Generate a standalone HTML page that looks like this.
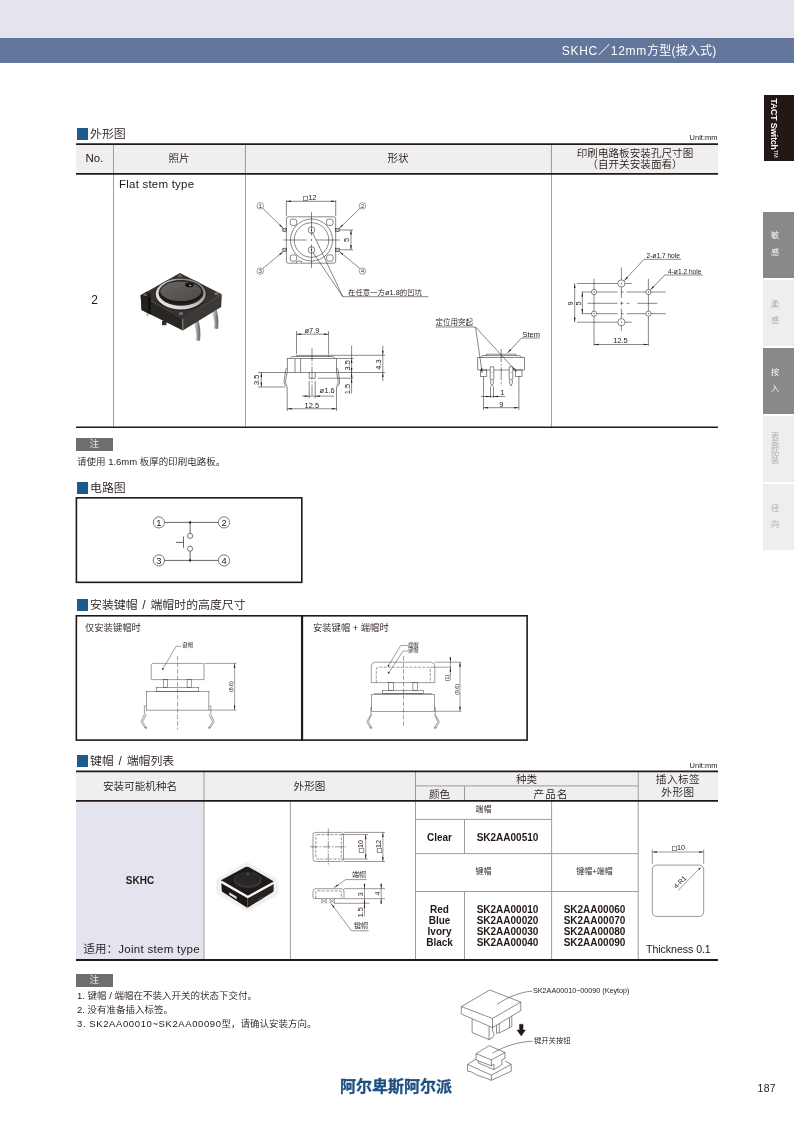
<!DOCTYPE html>
<html lang="zh-CN">
<head>
<meta charset="utf-8">
<title>SKHC 12mm</title>
<style>
*{box-sizing:border-box;margin:0;padding:0}
html,body{width:794px;height:1123px;background:#fff;overflow:hidden}
body{position:relative;font-family:"Liberation Sans","Noto Sans CJK SC",sans-serif;color:#231815;font-size:11px;font-weight:350}
.abs{position:absolute}
#pg{position:absolute;left:0;top:0;width:794px;height:1123px;will-change:transform}
.topband{left:0;top:0;width:794px;height:38px;background:#e3e4ee}
.blueband{left:0;top:38px;width:794px;height:25px;background:#62779b}
.title{right:77.500px;top:42px;color:#fff;font-size:12px;line-height:18px;white-space:nowrap;font-weight:400;letter-spacing:.2px}
.title b{font-weight:400;letter-spacing:.75px}
.sec{word-spacing:1.5px;font-size:11.9px;line-height:14px;white-space:nowrap;color:#231815;font-weight:350}
.sec i{display:inline-block;width:11px;height:12px;background:#1d5a8e;vertical-align:-2.2px;margin-right:2px}
.unit{font-size:7.5px;line-height:8px;color:#231815;white-space:nowrap}
.hl{background:#231815;height:2px}
.vl{background:#6b6b6b;width:1px}
.th{background:#efefef}
.c{text-align:center;white-space:nowrap}
.b{font-weight:bold;font-size:10px;line-height:11px}
.note-tag{background:#6e6e6e;color:#fff;font-size:9.5px;line-height:12.5px;text-align:center;width:37px;height:12.5px}
.note{font-size:9.5px;line-height:12px;white-space:nowrap}
.tab{left:763px;width:31px}
.tab span{position:absolute;left:0;width:24px;text-align:center;font-size:8.2px;line-height:10px}
svg{position:absolute;overflow:visible}
svg text{font-weight:350;font-family:"Liberation Sans","Noto Sans CJK SC",sans-serif;fill:#231815}
</style>
</head>
<body>
<div id="pg">
<div class="abs topband"></div>
<div class="abs blueband"></div>
<div class="abs title"><b>SKHC／12mm</b>方型(按入式)</div>

<!-- side tabs -->
<div class="abs" style="left:763.5px;top:95px;width:31px;height:65.5px;background:#231815"></div>
<div class="abs" style="left:741.5px;top:121.5px;width:67px;height:12px;transform:rotate(90deg);color:#fff;font-weight:bold;font-size:8.6px;line-height:12px;text-align:center;white-space:nowrap;letter-spacing:-.1px">TACT Switch<span style="font-size:5.5px;vertical-align:2.5px;font-weight:normal">TM</span></div>
<div class="abs tab" style="top:212px;height:66px;background:#898989;color:#fff"><span style="top:19.3px">敏</span><span style="top:35.5px">感</span></div>
<div class="abs tab" style="top:280px;height:66px;background:#eeeeee;color:#aaa"><span style="top:19.9px">柔</span><span style="top:35.6px">感</span></div>
<div class="abs tab" style="top:348px;height:66px;background:#898989;color:#fff"><span style="top:19.5px">按</span><span style="top:35.6px">入</span></div>
<div class="abs tab" style="top:416px;height:66px;background:#eeeeee;color:#aaa"><span style="top:15.8px">表</span><span style="top:23.8px">面</span><span style="top:31.7px">贴</span><span style="top:39.5px">装</span></div>
<div class="abs tab" style="top:484px;height:66px;background:#eeeeee;color:#aaa"><span style="top:20.0px">径</span><span style="top:36.1px">向</span></div>

<!-- section 1 -->
<div class="abs sec" style="left:77px;top:127px"><i></i>外形图</div>
<div class="abs unit" style="right:76.5px;top:134px">Unit:mm</div>

<!-- table 1 -->
<div class="abs th" style="left:76px;top:144px;width:642px;height:30px"></div>
<svg width="794" height="1123" viewBox="0 0 794 1123" style="left:0;top:0">
<line x1="113.5" y1="145" x2="113.5" y2="427" stroke="#9c9c9c" stroke-width="1"/>
<line x1="245.45" y1="145" x2="245.45" y2="427" stroke="#9c9c9c" stroke-width="1"/>
<line x1="551.45" y1="145" x2="551.45" y2="427" stroke="#9c9c9c" stroke-width="1"/>
<line x1="76" y1="144.15" x2="718" y2="144.15" stroke="#231815" stroke-width="1.7"/>
<line x1="76" y1="173.8" x2="718" y2="173.8" stroke="#231815" stroke-width="1.7"/>
<line x1="76" y1="427.25" x2="718" y2="427.25" stroke="#231815" stroke-width="1.6"/>
</svg>
<div class="abs c" style="left:76px;top:151px;width:37px;font-size:11.5px;line-height:14px">No.</div>
<div class="abs c" style="left:113px;top:151px;width:132px;font-size:10.6px;line-height:14px">照片</div>
<div class="abs c" style="left:245px;top:151px;width:306px;font-size:10.6px;line-height:14px">形状</div>
<div class="abs c" style="left:552px;top:147.5px;width:166px;font-size:10.6px;line-height:11px">印刷电路板安装孔尺寸图<br><span style="font-feature-settings:'halt'">（</span>自开关安装面看<span style="font-feature-settings:'halt'">）</span></div>
<div class="abs" style="left:119px;top:177px;font-size:11.5px;line-height:14px;white-space:nowrap;letter-spacing:.22px">Flat stem type</div>
<div class="abs c" style="left:76px;top:293px;width:37px;font-size:12px;line-height:14px">2</div>

<svg width="794" height="1123" viewBox="0 0 794 1123" style="left:0;top:0" fill="none" stroke="#231815">
<rect x="286.4" y="216.8" width="49.3" height="46.4" rx="2" stroke-width="0.52" fill="none" />
<path d="M296.7 263.2 V261.2 H301.4 V263.2" stroke-width="0.52" fill="#fff" />
<circle cx="311.5" cy="240.0" r="21" stroke-width="0.52" fill="none" />
<circle cx="311.5" cy="240.0" r="17.3" stroke-width="0.52" fill="none" />
<rect x="290.2" y="219.2" width="6.5" height="6.2" rx="2" stroke-width="0.52" fill="none" />
<rect x="326.6" y="219.2" width="6.5" height="6.2" rx="2" stroke-width="0.52" fill="none" />
<rect x="290.2" y="254.9" width="6.5" height="6.2" rx="2" stroke-width="0.52" fill="none" />
<rect x="326.6" y="254.9" width="6.5" height="6.2" rx="2" stroke-width="0.52" fill="none" />
<circle cx="311.5" cy="230.0" r="3.3" stroke-width="0.52" fill="none" />
<circle cx="311.5" cy="230.0" r="0.6" stroke-width="0.3" fill="#231815" />
<circle cx="311.5" cy="250.0" r="3.3" stroke-width="0.52" fill="none" />
<circle cx="311.5" cy="250.0" r="0.6" stroke-width="0.3" fill="#231815" />
<line x1="311.5" y1="211.8" x2="311.5" y2="235.5" stroke-width="0.52" />
<line x1="311.5" y1="239.3" x2="311.5" y2="240.7" stroke-width="0.52" />
<line x1="311.5" y1="244.5" x2="311.5" y2="268.0" stroke-width="0.52" />
<line x1="283.5" y1="240.0" x2="306.5" y2="240.0" stroke-width="0.52" />
<line x1="310.8" y1="240.0" x2="312.2" y2="240.0" stroke-width="0.52" />
<line x1="316.5" y1="240.0" x2="339.7" y2="240.0" stroke-width="0.52" />
<rect x="282.8" y="228.4" width="3.6" height="3.2" rx="0" stroke-width="0.52" fill="none" />
<circle cx="284.6" cy="230.0" r="1.1" stroke-width="0.4" fill="none" />
<rect x="335.7" y="228.4" width="4.0" height="3.2" rx="0" stroke-width="0.52" fill="none" />
<circle cx="337.6" cy="230.0" r="1.1" stroke-width="0.4" fill="none" />
<line x1="339.7" y1="230.0" x2="353.0" y2="230.0" stroke-width="0.52" />
<rect x="282.8" y="248.2" width="3.6" height="3.2" rx="0" stroke-width="0.52" fill="none" />
<circle cx="284.6" cy="249.8" r="1.1" stroke-width="0.4" fill="none" />
<rect x="335.7" y="248.2" width="4.0" height="3.2" rx="0" stroke-width="0.52" fill="none" />
<circle cx="337.6" cy="249.8" r="1.1" stroke-width="0.4" fill="none" />
<line x1="339.7" y1="249.8" x2="353.0" y2="249.8" stroke-width="0.52" />
<line x1="286.4" y1="200.3" x2="286.4" y2="216.0" stroke-width="0.52" />
<line x1="335.7" y1="200.3" x2="335.7" y2="216.0" stroke-width="0.52" />
<line x1="286.4" y1="201.3" x2="335.7" y2="201.3" stroke-width="0.52" />
<polygon points="286.4,201.3 291.0,200.6 291.0,202.1" fill="#231815" stroke="none"/>
<polygon points="335.7,201.3 331.1,202.1 331.1,200.6" fill="#231815" stroke="none"/>
<text x="309.8" y="199.9" font-size="7.5" text-anchor="middle" stroke="none" ><tspan font-size="5" dy="-0.4" font-family="Noto Sans CJK SC, sans-serif" stroke="#231815" stroke-width="0.2">□</tspan><tspan dy="0.4">12</tspan></text>
<line x1="351.0" y1="230.0" x2="351.0" y2="249.8" stroke-width="0.52" />
<polygon points="351.0,230.0 351.8,234.6 350.2,234.6" fill="#231815" stroke="none"/>
<polygon points="351.0,249.8 350.2,245.2 351.8,245.2" fill="#231815" stroke="none"/>
<text x="349.0" y="240.0" font-size="7.5" text-anchor="middle" stroke="none" transform="rotate(-90 349.0 240.0)" >5</text>
<circle cx="260.3" cy="205.8" r="3.3" stroke-width="0.4" fill="none" />
<text x="260.3" y="207.9" font-size="5.5" text-anchor="middle" stroke="none" >1</text>
<circle cx="362.5" cy="205.8" r="3.3" stroke-width="0.4" fill="none" />
<text x="362.5" y="207.9" font-size="5.5" text-anchor="middle" stroke="none" >2</text>
<circle cx="260.3" cy="271.1" r="3.3" stroke-width="0.4" fill="none" />
<text x="260.3" y="273.2" font-size="5.5" text-anchor="middle" stroke="none" >3</text>
<circle cx="362.5" cy="271.1" r="3.3" stroke-width="0.4" fill="none" />
<text x="362.5" y="273.2" font-size="5.5" text-anchor="middle" stroke="none" >4</text>
<line x1="262.8" y1="208.3" x2="283.2" y2="228.3" stroke-width="0.52" />
<polygon points="283.2,228.3 279.4,225.6 280.4,224.5" fill="#231815" stroke="none"/>
<line x1="360.0" y1="208.3" x2="339.3" y2="228.3" stroke-width="0.52" />
<polygon points="339.3,228.3 342.1,224.6 343.1,225.6" fill="#231815" stroke="none"/>
<line x1="262.8" y1="268.6" x2="283.2" y2="251.5" stroke-width="0.52" />
<polygon points="283.2,251.5 280.2,255.0 279.2,253.9" fill="#231815" stroke="none"/>
<line x1="360.0" y1="268.6" x2="339.3" y2="251.5" stroke-width="0.52" />
<polygon points="339.3,251.5 343.3,253.9 342.4,255.0" fill="#231815" stroke="none"/>
<line x1="312.5" y1="232.5" x2="342.8" y2="296.7" stroke-width="0.52" />
<line x1="313.0" y1="252.5" x2="342.8" y2="296.7" stroke-width="0.52" />
<line x1="342.8" y1="296.7" x2="428.3" y2="296.7" stroke-width="0.52" />
<text x="348.0" y="295.0" font-size="7.4" text-anchor="start" stroke="none" >在任意一方ø1.8的凹坑</text>
<rect x="287.2" y="358.4" width="49.3" height="14.1" rx="0" stroke-width="0.52" fill="none" />
<path d="M290.3 358.4 L291.8 356.5 H333.2 L334.7 358.4 M296.5 356.5 V355.4 H328.6 V356.5" stroke-width="0.52" fill="none" />
<line x1="295.0" y1="358.4" x2="295.0" y2="372.5" stroke-width="0.52" />
<line x1="300.6" y1="358.4" x2="300.6" y2="372.5" stroke-width="0.52" />
<line x1="312.0" y1="348.3" x2="312.0" y2="395.6" stroke-width="0.52" stroke-dasharray="13 1.8 1.6 1.8"/>
<path d="M309.2 372.5 V378.3 H315.2 V372.5" stroke-width="0.52" fill="none" />
<path d="M287.2 368 C286 368.3 285.6 370 285.4 372 C285 376 284 380 284.1 382 C284.3 385 286 386.5 287.3 387.5 M287.2 372.5 C286.6 376 285.4 380 285.6 382 C285.8 384 286.5 385 287.3 386" stroke-width="0.52" fill="none" />
<path d="M336.5 368 C337.7 368.3 338.1 370 338.3 372 C338.7 376 339.7 380 339.6 382 C339.4 385 337.7 386.5 336.4 387.5 M336.5 372.5 C337.1 376 338.3 380 338.1 382 C337.9 384 337.2 385 336.4 386" stroke-width="0.52" fill="none" />
<line x1="296.5" y1="331.0" x2="296.5" y2="354.0" stroke-width="0.52" />
<line x1="328.6" y1="331.0" x2="328.6" y2="354.0" stroke-width="0.52" />
<line x1="296.5" y1="334.2" x2="328.6" y2="334.2" stroke-width="0.52" />
<polygon points="296.5,334.2 301.1,333.4 301.1,334.9" fill="#231815" stroke="none"/>
<polygon points="328.6,334.2 324.0,334.9 324.0,333.4" fill="#231815" stroke="none"/>
<text x="312.0" y="332.6" font-size="7.5" text-anchor="middle" stroke="none" >ø7.9</text>
<line x1="258.0" y1="372.5" x2="287.0" y2="372.5" stroke-width="0.52" />
<line x1="258.0" y1="387.0" x2="285.0" y2="387.0" stroke-width="0.52" />
<line x1="261.3" y1="372.5" x2="261.3" y2="387.0" stroke-width="0.52" />
<polygon points="261.3,372.5 262.1,377.1 260.6,377.1" fill="#231815" stroke="none"/>
<polygon points="261.3,387.0 260.6,382.4 262.1,382.4" fill="#231815" stroke="none"/>
<text x="258.8" y="379.9" font-size="7.5" text-anchor="middle" stroke="none" transform="rotate(-90 258.8 379.9)" >3.5</text>
<line x1="328.0" y1="355.3" x2="385.0" y2="355.3" stroke-width="0.52" />
<line x1="336.5" y1="358.4" x2="353.5" y2="358.4" stroke-width="0.52" />
<line x1="336.5" y1="372.5" x2="385.0" y2="372.5" stroke-width="0.52" />
<line x1="318.0" y1="378.2" x2="353.5" y2="378.2" stroke-width="0.52" />
<line x1="351.6" y1="345.5" x2="351.6" y2="393.7" stroke-width="0.52" />
<polygon points="351.6,358.4 352.4,363.0 350.9,363.0" fill="#231815" stroke="none"/>
<polygon points="351.6,372.5 350.9,367.9 352.4,367.9" fill="#231815" stroke="none"/>
<polygon points="351.6,372.5 352.4,377.1 350.9,377.1" fill="#231815" stroke="none"/>
<polygon points="351.6,378.2 352.4,382.8 350.9,382.8" fill="#231815" stroke="none"/>
<text x="349.6" y="365.3" font-size="7.5" text-anchor="middle" stroke="none" transform="rotate(-90 349.6 365.3)" >3.5</text>
<text x="349.6" y="389.0" font-size="7.5" text-anchor="middle" stroke="none" transform="rotate(-90 349.6 389.0)" >1.5</text>
<line x1="382.8" y1="345.5" x2="382.8" y2="381.4" stroke-width="0.52" />
<polygon points="382.8,355.3 382.1,350.7 383.6,350.7" fill="#231815" stroke="none"/>
<polygon points="382.8,372.5 383.6,377.1 382.1,377.1" fill="#231815" stroke="none"/>
<text x="381.2" y="364.4" font-size="7.5" text-anchor="middle" stroke="none" transform="rotate(-90 381.2 364.4)" >4.3</text>
<line x1="309.2" y1="380.8" x2="309.2" y2="398.0" stroke-width="0.52" />
<line x1="315.2" y1="380.8" x2="315.2" y2="398.0" stroke-width="0.52" />
<line x1="302.0" y1="396.1" x2="334.0" y2="396.1" stroke-width="0.52" />
<polygon points="309.2,396.1 304.6,396.9 304.6,395.4" fill="#231815" stroke="none"/>
<polygon points="315.2,396.1 319.8,395.4 319.8,396.9" fill="#231815" stroke="none"/>
<text x="327.1" y="393.2" font-size="7.5" text-anchor="middle" stroke="none" >ø1.6</text>
<line x1="287.2" y1="387.0" x2="287.2" y2="411.0" stroke-width="0.52" />
<line x1="336.5" y1="387.0" x2="336.5" y2="411.0" stroke-width="0.52" />
<line x1="287.2" y1="408.8" x2="336.5" y2="408.8" stroke-width="0.52" />
<polygon points="287.2,408.8 291.8,408.1 291.8,409.6" fill="#231815" stroke="none"/>
<polygon points="336.5,408.8 331.9,409.6 331.9,408.1" fill="#231815" stroke="none"/>
<text x="311.8" y="408.0" font-size="7.5" text-anchor="middle" stroke="none" >12.5</text>
<rect x="477.8" y="357.3" width="46.8" height="12.7" rx="0" stroke-width="0.52" fill="none" />
<path d="M481 357.3 L482.2 355.6 H520.2 L521.4 357.3 M486.4 355.6 V354.2 H515.9 V355.6" stroke-width="0.52" fill="none" />
<line x1="501.2" y1="349.0" x2="501.2" y2="386.0" stroke-width="0.52" stroke-dasharray="13 1.8 1.6 1.8"/>
<rect x="480.3" y="370.0" width="6.5" height="6.6" rx="0" stroke-width="0.52" fill="none" />
<rect x="515.6" y="370.0" width="6.4" height="6.6" rx="0" stroke-width="0.52" fill="none" />
<path d="M490.2 366.8 H493.8 V378.8 L493.3 379.3 V383.4 L492.0 386 L490.7 383.4 V379.3 L490.2 378.8 Z" stroke-width="0.52" fill="#fff" />
<line x1="491.4" y1="372.5" x2="492.6" y2="372.5" stroke-width="0.4" />
<line x1="490.7" y1="379.3" x2="493.3" y2="379.3" stroke-width="0.4" />
<path d="M509.2 366.8 H512.8 V378.8 L512.3 379.3 V383.4 L511.0 386 L509.7 383.4 V379.3 L509.2 378.8 Z" stroke-width="0.52" fill="#fff" />
<line x1="510.4" y1="372.5" x2="511.6" y2="372.5" stroke-width="0.4" />
<line x1="509.7" y1="379.3" x2="512.3" y2="379.3" stroke-width="0.4" />
<line x1="490.5" y1="386.5" x2="490.5" y2="398.0" stroke-width="0.52" />
<line x1="493.5" y1="386.5" x2="493.5" y2="398.0" stroke-width="0.52" />
<line x1="481.0" y1="396.5" x2="505.2" y2="396.5" stroke-width="0.52" />
<polygon points="490.5,396.5 485.9,397.2 485.9,395.8" fill="#231815" stroke="none"/>
<polygon points="493.5,396.5 498.1,395.8 498.1,397.2" fill="#231815" stroke="none"/>
<text x="502.4" y="395.2" font-size="7.5" text-anchor="middle" stroke="none" >1</text>
<line x1="483.5" y1="376.6" x2="483.5" y2="410.0" stroke-width="0.52" />
<line x1="518.9" y1="376.6" x2="518.9" y2="410.0" stroke-width="0.52" />
<line x1="483.5" y1="407.7" x2="518.9" y2="407.7" stroke-width="0.52" />
<polygon points="483.5,407.7 488.1,406.9 488.1,408.4" fill="#231815" stroke="none"/>
<polygon points="518.9,407.7 514.3,408.4 514.3,406.9" fill="#231815" stroke="none"/>
<text x="501.3" y="406.6" font-size="7.5" text-anchor="middle" stroke="none" >9</text>
<text x="435.5" y="324.6" font-size="7.5" text-anchor="start" stroke="none" >定位用突起</text>
<line x1="435.5" y1="327.0" x2="475.5" y2="327.0" stroke-width="0.52" />
<line x1="475.5" y1="327.0" x2="482.2" y2="372.9" stroke-width="0.52" />
<polygon points="482.2,372.9 480.8,368.5 482.3,368.2" fill="#231815" stroke="none"/>
<line x1="475.5" y1="327.0" x2="516.6" y2="371.7" stroke-width="0.52" />
<polygon points="516.6,371.7 512.9,368.8 514.0,367.8" fill="#231815" stroke="none"/>
<text x="522.5" y="336.6" font-size="7.5" text-anchor="start" stroke="none" >Stem</text>
<line x1="521.4" y1="338.0" x2="539.6" y2="338.0" stroke-width="0.52" />
<line x1="521.4" y1="338.0" x2="507.6" y2="353.0" stroke-width="0.52" />
<polygon points="507.6,353.0 510.2,349.1 511.3,350.1" fill="#231815" stroke="none"/>
<line x1="594.0" y1="278.7" x2="594.0" y2="345.8" stroke-width="0.52" />
<line x1="648.4" y1="278.7" x2="648.4" y2="345.8" stroke-width="0.52" />
<line x1="577.0" y1="283.5" x2="631.8" y2="283.5" stroke-width="0.52" />
<line x1="577.0" y1="322.2" x2="631.8" y2="322.2" stroke-width="0.52" />
<line x1="621.4" y1="267.4" x2="621.4" y2="297.8" stroke-width="0.52" />
<line x1="621.4" y1="301.4" x2="621.4" y2="305.2" stroke-width="0.52" />
<line x1="621.4" y1="308.4" x2="621.4" y2="330.7" stroke-width="0.52" />
<line x1="581.7" y1="292.0" x2="665.8" y2="292.0" stroke-width="0.52" stroke-dasharray="36 3 3 3 60"/>
<line x1="581.7" y1="313.7" x2="665.8" y2="313.7" stroke-width="0.52" stroke-dasharray="36 3 3 3 60"/>
<line x1="587.4" y1="303.3" x2="658.2" y2="303.3" stroke-width="0.52" stroke-dasharray="30 3 3 3 3 8 20"/>
<circle cx="594.0" cy="292.0" r="2.6" stroke-width="0.52" fill="#fff" />
<circle cx="594.0" cy="292.0" r="0.4" stroke-width="0.3" fill="#231815" />
<circle cx="594.0" cy="313.7" r="2.6" stroke-width="0.52" fill="#fff" />
<circle cx="594.0" cy="313.7" r="0.4" stroke-width="0.3" fill="#231815" />
<circle cx="648.4" cy="292.0" r="2.6" stroke-width="0.52" fill="#fff" />
<circle cx="648.4" cy="292.0" r="0.4" stroke-width="0.3" fill="#231815" />
<circle cx="648.4" cy="313.7" r="2.6" stroke-width="0.52" fill="#fff" />
<circle cx="648.4" cy="313.7" r="0.4" stroke-width="0.3" fill="#231815" />
<circle cx="621.4" cy="283.5" r="3.6" stroke-width="0.52" fill="#fff" />
<circle cx="621.4" cy="283.5" r="0.4" stroke-width="0.3" fill="#231815" />
<circle cx="621.4" cy="322.2" r="3.6" stroke-width="0.52" fill="#fff" />
<circle cx="621.4" cy="322.2" r="0.4" stroke-width="0.3" fill="#231815" />
<line x1="574.7" y1="283.5" x2="574.7" y2="322.2" stroke-width="0.52" />
<polygon points="574.7,283.5 575.5,288.1 574.0,288.1" fill="#231815" stroke="none"/>
<polygon points="574.7,322.2 574.0,317.6 575.5,317.6" fill="#231815" stroke="none"/>
<text x="572.8" y="303.3" font-size="7.5" text-anchor="middle" stroke="none" transform="rotate(-90 572.8 303.3)" >9</text>
<line x1="582.3" y1="292.0" x2="582.3" y2="313.7" stroke-width="0.52" />
<polygon points="582.3,292.0 583.0,296.6 581.5,296.6" fill="#231815" stroke="none"/>
<polygon points="582.3,313.7 581.5,309.1 583.0,309.1" fill="#231815" stroke="none"/>
<text x="581.0" y="303.3" font-size="7.5" text-anchor="middle" stroke="none" transform="rotate(-90 581.0 303.3)" >5</text>
<line x1="594.0" y1="344.5" x2="648.4" y2="344.5" stroke-width="0.52" />
<polygon points="594.0,344.5 598.6,343.8 598.6,345.2" fill="#231815" stroke="none"/>
<polygon points="648.4,344.5 643.8,345.2 643.8,343.8" fill="#231815" stroke="none"/>
<text x="620.5" y="342.6" font-size="7.5" text-anchor="middle" stroke="none" >12.5</text>
<text x="646.5" y="258.2" font-size="6.6" text-anchor="start" stroke="none" >2-ø1.7 hole</text>
<line x1="644.0" y1="259.3" x2="681.0" y2="259.3" stroke-width="0.52" />
<line x1="644.0" y1="259.3" x2="624.2" y2="280.7" stroke-width="0.52" />
<polygon points="624.2,280.7 626.8,276.8 627.9,277.8" fill="#231815" stroke="none"/>
<text x="668.0" y="273.6" font-size="6.6" text-anchor="start" stroke="none" >4-ø1.2 hole</text>
<line x1="664.9" y1="275.0" x2="702.6" y2="275.0" stroke-width="0.52" />
<line x1="664.9" y1="275.0" x2="650.4" y2="289.9" stroke-width="0.52" />
<polygon points="650.4,289.9 653.1,286.1 654.1,287.1" fill="#231815" stroke="none"/>
</svg><svg width="794" height="1123" viewBox="0 0 794 1123" style="left:0;top:0">
<defs>
<filter id="b1" x="-10%" y="-10%" width="120%" height="120%"><feGaussianBlur stdDeviation="0.55"/></filter>
<linearGradient id="g2" x1="0" y1="1" x2="1" y2="0"><stop offset="0" stop-color="#f2f2f2"/><stop offset=".45" stop-color="#c6c6c6"/><stop offset=".8" stop-color="#8a8785"/><stop offset="1" stop-color="#9a9795"/></linearGradient>
<linearGradient id="g3" x1="0" y1="0" x2="1" y2="0"><stop offset="0" stop-color="#f4f4f4"/><stop offset=".45" stop-color="#a4a4a4"/><stop offset=".8" stop-color="#6e6e6e"/><stop offset="1" stop-color="#d0d0d0"/></linearGradient>
<linearGradient id="g4" x1="0" y1="0" x2="1" y2="1"><stop offset="0" stop-color="#686461"/><stop offset="1" stop-color="#4e4a48"/></linearGradient>
</defs>
<g filter="url(#b1)">
<!-- pins -->
<path d="M193.600 322.300 L198.600 320 C199.400 326 202.200 332 200 340.800 L196 340.600 C197.600 333 194.800 328 193.600 322.300 Z" fill="url(#g3)"/>
<path d="M211.800 312.400 L216.800 310 C217.600 315 220.200 321 218 329 L214 328.600 C215.600 322 213 317 211.800 312.400 Z" fill="url(#g3)"/>
<path d="M146 312 L148.600 313 L148.400 316.600 L146.600 316 Z" fill="#bbb"/>
<rect x="162" y="321" width="4.500" height="4.200" fill="#34302e"/>
<!-- left face -->
<path d="M140.600 295.200 L182.400 318.600 L182.800 330.400 L141.600 309.900 Z" fill="#2a2624"/>
<!-- right face -->
<path d="M182.400 318.600 L221.800 294.200 L221.200 307 L182.800 330.400 Z" fill="#3b3734"/>
<path d="M181.900 318.600 L183.300 318.600 L183.500 330.200 L182.300 330.200 Z" fill="#77736f"/>
<!-- top face -->
<path d="M179.900 272.900 L221.800 294.200 L182.400 318.900 L140.600 295.200 Z" fill="#373331"/>
<path d="M140.600 295.200 L147 291.600 L151.200 294 L150.800 314.400 L141.600 309.900 Z" fill="#24211f"/>
<path d="M148.200 297 L150.600 298 L150.600 314 L148.400 313 Z" fill="#0e0c0c"/>
<!-- corner holes -->
<ellipse cx="179.900" cy="275.900" rx="2.300" ry="1.300" fill="#625e5b"/>
<ellipse cx="216.400" cy="293.700" rx="2.400" ry="1.500" fill="#726e6b"/>
<ellipse cx="181" cy="313.500" rx="2.400" ry="1.500" fill="#726e6b"/>
<ellipse cx="145.200" cy="294.700" rx="2.200" ry="1.300" fill="#625e5b"/>
<!-- metal ring -->
<ellipse cx="180.900" cy="294.300" rx="26" ry="16.200" fill="#1f1c1b"/>
<ellipse cx="180.800" cy="293.900" rx="25.100" ry="15.500" fill="url(#g2)"/>
<ellipse cx="181" cy="292.900" rx="22.400" ry="12.900" fill="#242120"/>
<!-- stem disc -->
<ellipse cx="180.800" cy="293.400" rx="20.700" ry="10.400" fill="#1b1918"/>
<ellipse cx="180.800" cy="291.300" rx="20.500" ry="9.700" fill="url(#g4)"/>
<ellipse cx="189.400" cy="284.900" rx="4.300" ry="2.300" fill="#171514"/>
<ellipse cx="190.200" cy="285.300" rx="1.100" ry=".6" fill="#c9c9c9"/>
</g>
</svg>


<!-- note 1 -->
<div class="abs note-tag" style="left:76px;top:438px">注</div>
<div class="abs note" style="left:77px;top:456px">请使用 1.6mm 板厚的印刷电路板。</div>

<!-- section 2 circuit -->
<div class="abs sec" style="left:77px;top:481px"><i></i>电路图</div>
<svg width="794" height="1123" viewBox="0 0 794 1123" style="left:0;top:0"><rect x="76.4" y="497.85" width="225.4" height="84.5" fill="none" stroke="#231815" stroke-width="1.6"/></svg>
<svg width="794" height="1123" viewBox="0 0 794 1123" style="left:0;top:0" fill="none" stroke="#555">
<circle cx="158.9" cy="522.4" r="5.6" stroke-width="0.8" fill="none" />
<text x="158.9" y="525.8" font-size="9.4" text-anchor="middle" stroke="none" >1</text>
<circle cx="224.0" cy="522.4" r="5.6" stroke-width="0.8" fill="none" />
<text x="224.0" y="525.8" font-size="9.4" text-anchor="middle" stroke="none" >2</text>
<circle cx="158.9" cy="560.4" r="5.6" stroke-width="0.8" fill="none" />
<text x="158.9" y="563.8" font-size="9.4" text-anchor="middle" stroke="none" >3</text>
<circle cx="224.0" cy="560.4" r="5.6" stroke-width="0.8" fill="none" />
<text x="224.0" y="563.8" font-size="9.4" text-anchor="middle" stroke="none" >4</text>
<line x1="164.6" y1="522.4" x2="218.3" y2="522.4" stroke-width="0.9" />
<line x1="164.6" y1="560.4" x2="218.3" y2="560.4" stroke-width="0.9" />
<line x1="190.1" y1="522.4" x2="190.1" y2="533.2" stroke-width="0.9" />
<line x1="190.1" y1="551.4" x2="190.1" y2="560.4" stroke-width="0.9" />
<circle cx="190.1" cy="535.9" r="2.6" stroke-width="0.8" fill="none" />
<circle cx="190.1" cy="548.7" r="2.6" stroke-width="0.8" fill="none" />
<circle cx="190.1" cy="522.4" r="1.1" stroke-width="0.3" fill="#231815" />
<circle cx="190.1" cy="560.4" r="1.1" stroke-width="0.3" fill="#231815" />
<line x1="183.5" y1="536.5" x2="183.5" y2="547.8" stroke-width="0.9" />
<line x1="175.9" y1="542.4" x2="183.5" y2="542.4" stroke-width="0.9" />
</svg>

<!-- section 3 -->
<div class="abs sec" style="left:77px;top:598px"><i></i>安装键帽 / 端帽时的高度尺寸</div>
<svg width="794" height="1123" viewBox="0 0 794 1123" style="left:0;top:0"><rect x="76.35" y="615.8" width="450.75" height="124.3" fill="none" stroke="#231815" stroke-width="1.6"/><line x1="302.05" y1="615" x2="302.05" y2="740.9" stroke="#231815" stroke-width="2.2"/></svg>
<div class="abs" style="left:85px;top:622px;font-size:9.3px;line-height:12px;white-space:nowrap">仅安装键帽时</div>
<div class="abs" style="left:313px;top:622px;font-size:9.3px;line-height:12px;white-space:nowrap">安装键帽 + 端帽时</div>
<svg width="794" height="1123" viewBox="0 0 794 1123" style="left:0;top:0" fill="none" stroke="#231815">
<path d="M151.2 679.6 V665.4 Q151.2 663.4 153.2 663.4 H202 Q204 663.4 204 665.4 V679.6 Z" stroke-width="0.42" fill="none" />
<rect x="163.5" y="679.6" width="4.0" height="7.8" rx="0" stroke-width="0.42" fill="none" />
<rect x="187.1" y="679.6" width="4.1" height="7.8" rx="0" stroke-width="0.42" fill="none" />
<rect x="156.4" y="687.4" width="42.4" height="3.8" rx="0" stroke-width="0.42" fill="none" />
<rect x="146.3" y="691.2" width="62.6" height="18.9" rx="0" stroke-width="0.42" fill="none" />
<line x1="177.6" y1="656.2" x2="177.6" y2="729.5" stroke-width="0.42" stroke-dasharray="4.5 2"/>
<path d="M146.3 706 H144.4 V714.3 L140.9 721.9 L145.1 728 M146.3 714.3 L142.6 721.9 L146.3 727.4" stroke-width="0.42" fill="none" />
<circle cx="145.8" cy="727.8" r="0.8" stroke-width="0.4" fill="none" />
<path d="M208.9 706 H210.8 V714.3 L214.3 721.9 L210.1 728 M208.9 714.3 L212.6 721.9 L208.9 727.4" stroke-width="0.42" fill="none" />
<circle cx="209.4" cy="727.8" r="0.8" stroke-width="0.4" fill="none" />
<line x1="204.0" y1="663.4" x2="236.5" y2="663.4" stroke-width="0.42" />
<line x1="208.9" y1="710.1" x2="236.5" y2="710.1" stroke-width="0.42" />
<line x1="234.6" y1="663.4" x2="234.6" y2="710.1" stroke-width="0.42" />
<polygon points="234.6,663.4 235.3,668.0 233.8,668.0" fill="#231815" stroke="none"/>
<polygon points="234.6,710.1 233.8,705.5 235.3,705.5" fill="#231815" stroke="none"/>
<text x="233.2" y="686.7" font-size="5.2" text-anchor="middle" stroke="none" transform="rotate(-90 233.2 686.7)" >(8.6)</text>
<text x="182.3" y="647.2" font-size="5.4" text-anchor="start" stroke="none" >键帽</text>
<path d="M181.4 646.3 H176.1 L162.8 669" stroke-width="0.42" fill="none" />
<circle cx="162.8" cy="669.0" r="0.7" stroke-width="0.3" fill="#231815" />
<path d="M371.3 682.6 V666.2 Q371.3 662.2 375.3 662.2 H430.8 Q434.8 662.2 434.8 666.2 V682.6 Z" stroke-width="0.42" fill="none" />
<path d="M376.3 682.6 V669.2 Q376.3 667.2 378.3 667.2 H428.3 Q430.3 667.2 430.3 669.2 V682.6" stroke-width="0.42" fill="none" stroke-dasharray="3 1.3"/>
<rect x="388.7" y="682.6" width="4.8" height="7.6" rx="0" stroke-width="0.42" fill="none" />
<rect x="412.9" y="682.6" width="4.8" height="7.6" rx="0" stroke-width="0.42" fill="none" />
<rect x="382.4" y="690.2" width="40.8" height="3.4" rx="0" stroke-width="0.42" fill="none" />
<rect x="371.8" y="694.7" width="62.6" height="16.6" rx="0" stroke-width="0.42" fill="none" />
<line x1="374.0" y1="693.6" x2="432.0" y2="693.6" stroke-width="0.42" />
<line x1="403.5" y1="656.2" x2="403.5" y2="727.2" stroke-width="0.42" stroke-dasharray="4.5 2"/>
<path d="M371.8 707.5 H370.9 V714.3 L366.8 721.9 L370.3 728 M371.8 714.3 L368.4 721.9 L371.6 727.4" stroke-width="0.42" fill="none" />
<circle cx="371.0" cy="727.8" r="0.8" stroke-width="0.4" fill="none" />
<path d="M434.4 707.5 H435.3 V714.3 L439.4 721.9 L435.9 728 M434.4 714.3 L437.8 721.9 L434.6 727.4" stroke-width="0.42" fill="none" />
<circle cx="435.2" cy="727.8" r="0.8" stroke-width="0.4" fill="none" />
<line x1="434.8" y1="662.2" x2="461.3" y2="662.2" stroke-width="0.42" />
<line x1="430.3" y1="667.2" x2="451.4" y2="667.2" stroke-width="0.42" />
<line x1="434.4" y1="711.3" x2="461.3" y2="711.3" stroke-width="0.42" />
<line x1="450.4" y1="656.9" x2="450.4" y2="680.3" stroke-width="0.42" />
<polygon points="450.4,662.2 449.6,657.6 451.1,657.6" fill="#231815" stroke="none"/>
<polygon points="450.4,667.2 451.1,671.8 449.6,671.8" fill="#231815" stroke="none"/>
<line x1="460.0" y1="662.2" x2="460.0" y2="711.3" stroke-width="0.42" />
<polygon points="460.0,662.2 460.8,666.8 459.2,666.8" fill="#231815" stroke="none"/>
<polygon points="460.0,711.3 459.2,706.7 460.8,706.7" fill="#231815" stroke="none"/>
<text x="448.6" y="678.0" font-size="5.2" text-anchor="middle" stroke="none" transform="rotate(-90 448.6 678.0)" >(1)</text>
<text x="458.6" y="689.4" font-size="5.2" text-anchor="middle" stroke="none" transform="rotate(-90 458.6 689.4)" >(9.6)</text>
<text x="408.0" y="646.7" font-size="5.3" text-anchor="start" stroke="none" >端帽</text>
<text x="408.0" y="652.0" font-size="5.3" text-anchor="start" stroke="none" >键帽</text>
<path d="M408 645.5 H400.8 L388.4 665.7" stroke-width="0.42" fill="none" />
<circle cx="388.4" cy="665.7" r="0.7" stroke-width="0.3" fill="#231815" />
<path d="M408 651 H403 L388.7 672.8" stroke-width="0.42" fill="none" />
<circle cx="388.7" cy="672.8" r="0.7" stroke-width="0.3" fill="#231815" />
</svg>

<!-- section 4 -->
<div class="abs sec" style="left:77px;top:754px"><i></i>键帽 / 端帽列表</div>
<div class="abs unit" style="right:76.5px;top:762px">Unit:mm</div>
<!-- TABLE2 -->
<svg width="794" height="1123" viewBox="0 0 794 1123" style="left:0;top:0" fill="none" stroke="#231815">
<rect x="313.0" y="832.4" width="30.5" height="29.1" rx="3" stroke-width="0.45" fill="none" />
<rect x="315.8" y="834.6" width="25.5" height="24.4" rx="1.5" stroke-width="0.45" fill="none" stroke-dasharray="3 1.3"/>
<line x1="328.3" y1="828.5" x2="328.3" y2="865.4" stroke-width="0.45" stroke-dasharray="8 1.5 1.5 1.5"/>
<line x1="310.0" y1="846.8" x2="346.9" y2="846.8" stroke-width="0.45" stroke-dasharray="8 1.5 1.5 1.5"/>
<line x1="343.5" y1="832.4" x2="385.0" y2="832.4" stroke-width="0.45" />
<line x1="343.5" y1="861.5" x2="385.0" y2="861.5" stroke-width="0.45" />
<line x1="341.3" y1="834.6" x2="368.0" y2="834.6" stroke-width="0.45" />
<line x1="341.3" y1="859.0" x2="368.0" y2="859.0" stroke-width="0.45" />
<line x1="365.7" y1="834.6" x2="365.7" y2="859.0" stroke-width="0.45" />
<polygon points="365.7,834.6 366.4,839.2 364.9,839.2" fill="#231815" stroke="none"/>
<polygon points="365.7,859.0 364.9,854.4 366.4,854.4" fill="#231815" stroke="none"/>
<line x1="382.9" y1="832.4" x2="382.9" y2="861.5" stroke-width="0.45" />
<polygon points="382.9,832.4 383.6,837.0 382.1,837.0" fill="#231815" stroke="none"/>
<polygon points="382.9,861.5 382.1,856.9 383.6,856.9" fill="#231815" stroke="none"/>
<text x="363.3" y="846.5" font-size="7.2" text-anchor="middle" stroke="none" transform="rotate(-90 363.3 846.5)" ><tspan font-size="5" dy="-0.4" font-family="Noto Sans CJK SC, sans-serif" stroke="#231815" stroke-width="0.2">□</tspan><tspan dy="0.4">10</tspan></text>
<text x="381.0" y="846.5" font-size="7.2" text-anchor="middle" stroke="none" transform="rotate(-90 381.0 846.5)" ><tspan font-size="5" dy="-0.4" font-family="Noto Sans CJK SC, sans-serif" stroke="#231815" stroke-width="0.2">□</tspan><tspan dy="0.4">12</tspan></text>
<path d="M313 897.1 V891.7 Q313 888.7 316 888.7 H341 Q344 888.7 344 891.7 V897.1 Q344 898.6 342.5 898.6 H314.5 Q313 898.6 313 897.1 Z" stroke-width="0.45" fill="none" />
<path d="M315.8 898.6 V892.4 Q315.8 890.9 317.3 890.9 H339.8 Q341.3 890.9 341.3 892.4 V898.6" stroke-width="0.45" fill="none" stroke-dasharray="3 1.3"/>
<path d="M321.9 899.2 V903.3 L326.29999999999995 899.2 V903.3 Z" stroke-width="0.4" fill="none" />
<path d="M330.1 899.2 V903.3 L334.5 899.2 V903.3 Z" stroke-width="0.4" fill="none" />
<line x1="344.0" y1="888.7" x2="385.0" y2="888.7" stroke-width="0.45" />
<line x1="344.0" y1="898.7" x2="385.0" y2="898.7" stroke-width="0.45" />
<line x1="334.6" y1="903.3" x2="369.5" y2="903.3" stroke-width="0.45" />
<line x1="364.5" y1="883.5" x2="364.5" y2="916.5" stroke-width="0.45" />
<polygon points="364.5,888.7 363.8,884.1 365.2,884.1" fill="#231815" stroke="none"/>
<polygon points="364.5,898.7 365.2,903.3 363.8,903.3" fill="#231815" stroke="none"/>
<polygon points="364.5,903.3 365.2,907.9 363.8,907.9" fill="#231815" stroke="none"/>
<line x1="381.2" y1="883.5" x2="381.2" y2="904.0" stroke-width="0.45" />
<polygon points="381.2,888.7 380.4,884.1 381.9,884.1" fill="#231815" stroke="none"/>
<polygon points="381.2,898.7 381.9,903.3 380.4,903.3" fill="#231815" stroke="none"/>
<text x="362.7" y="894.3" font-size="7.2" text-anchor="middle" stroke="none" transform="rotate(-90 362.7 894.3)" >3</text>
<text x="380.4" y="893.5" font-size="7.2" text-anchor="middle" stroke="none" transform="rotate(-90 380.4 893.5)" >4</text>
<text x="362.7" y="912.3" font-size="7.2" text-anchor="middle" stroke="none" transform="rotate(-90 362.7 912.3)" >1.5</text>
<text x="351.9" y="877.0" font-size="7.1" text-anchor="start" stroke="none" >端帽</text>
<line x1="345.7" y1="879.6" x2="366.6" y2="879.6" stroke-width="0.45" />
<line x1="345.7" y1="879.6" x2="334.2" y2="887.6" stroke-width="0.45" />
<polygon points="334.2,887.6 337.5,884.4 338.4,885.6" fill="#231815" stroke="none"/>
<text x="353.9" y="928.0" font-size="7.1" text-anchor="start" stroke="none" >键帽</text>
<line x1="351.4" y1="930.8" x2="368.6" y2="930.8" stroke-width="0.45" />
<line x1="351.4" y1="930.8" x2="331.3" y2="903.7" stroke-width="0.45" />
<polygon points="331.3,903.7 334.6,906.9 333.4,907.8" fill="#231815" stroke="none"/>
<rect x="652.3" y="865.1" width="51.4" height="51.3" rx="4.3" stroke-width="0.45" fill="none" />
<line x1="652.3" y1="849.6" x2="652.3" y2="863.8" stroke-width="0.45" />
<line x1="703.7" y1="849.6" x2="703.7" y2="863.8" stroke-width="0.45" />
<line x1="652.3" y1="852.0" x2="703.7" y2="852.0" stroke-width="0.45" />
<polygon points="652.3,852.0 656.9,851.2 656.9,852.8" fill="#231815" stroke="none"/>
<polygon points="703.7,852.0 699.1,852.8 699.1,851.2" fill="#231815" stroke="none"/>
<text x="678.5" y="850.4" font-size="7.2" text-anchor="middle" stroke="none" ><tspan font-size="5" dy="-0.4" font-family="Noto Sans CJK SC, sans-serif" stroke="#231815" stroke-width="0.2">□</tspan><tspan dy="0.4">10</tspan></text>
<line x1="678.1" y1="890.4" x2="700.0" y2="868.2" stroke-width="0.45" />
<polygon points="701.2,867.0 699.2,870.1 698.1,869.0" fill="#231815" stroke="none"/>
<text x="681.7" y="883.7" font-size="6.8" text-anchor="middle" stroke="none" transform="rotate(-45 681.7 883.7)" >4-R1</text>
</svg><svg width="794" height="1123" viewBox="0 0 794 1123" style="left:0;top:0">
<defs>
<filter id="b2" x="-10%" y="-10%" width="120%" height="120%"><feGaussianBlur stdDeviation="0.6"/></filter>
<filter id="b3" x="-20%" y="-20%" width="140%" height="140%"><feGaussianBlur stdDeviation="0.8"/></filter>
</defs>
<path d="M245.600 864 Q246.800 863.300 248 864 L276.400 880.200 Q277.600 881 277.500 882.400 L277.200 892.600 Q277.100 893.800 276 894.500 L248.600 909.600 Q247.500 910.200 246.400 909.600 L218.600 893.200 Q217.500 892.500 217.500 891.300 L217.300 881.200 Q217.300 880 218.400 879.300 Z" fill="#f4f4f4" stroke="#d6d6d6" stroke-width="1" filter="url(#b3)"/>
<g filter="url(#b2)">
<path d="M221.200 880.500 L247.800 896 L247.400 907.200 Q247.300 907.800 246.400 907.200 L222.600 892 Q221.800 891.400 221.700 890.400 Z" fill="#1c1817"/>
<path d="M247.800 896 L273.700 882.100 L273.600 890.600 Q273.500 891.600 272.600 892.200 L248.400 907.200 Q247.500 907.800 247.400 907.200 Z" fill="#25201e"/>
<path d="M246.800 866.800 Q248 866.300 249.500 867.400 L272.700 880.700 Q274.200 882 273 883 L249.800 895.600 Q247.900 896.600 246 895.600 L221.800 882 Q220.200 880.800 221.800 879.700 L244.500 867.400 Q245.800 866.600 246.800 866.800 Z" fill="#1f1b1a"/>
<path d="M221 881.600 L247.800 897 L273.800 882.800" fill="none" stroke="#f6f6f6" stroke-width="2.400" stroke-linejoin="round"/>
<ellipse cx="247.800" cy="880" rx="14" ry="8" fill="#3a3634"/>
<ellipse cx="247.600" cy="879" rx="12.600" ry="6.800" fill="#2c2826"/>
<ellipse cx="248" cy="874" rx=".8" ry=".5" fill="#b0b0b0"/>
<path d="M229.300 892.300 L236.700 896.700 L236.700 899.200 L229.300 894.800 Z" fill="#dcdcdc"/>
<path d="M258 899.500 L263 896.500 L263 898.500 L258 901.500 Z" fill="#4a4644"/>
</g>
</svg>

<div class="abs th" style="left:76px;top:771px;width:642px;height:30px"></div>
<div class="abs" style="left:76px;top:801px;width:128px;height:159px;background:#e3e4ee"></div>
<svg width="794" height="1123" viewBox="0 0 794 1123" style="left:0;top:0">
<line x1="204" y1="772" x2="204" y2="960" stroke="#9c9c9c" stroke-width="1"/>
<line x1="290.4" y1="801" x2="290.4" y2="960" stroke="#9c9c9c" stroke-width="1"/>
<line x1="415.5" y1="772" x2="415.5" y2="960" stroke="#9c9c9c" stroke-width="1"/>
<line x1="464.5" y1="786" x2="464.5" y2="800" stroke="#9c9c9c" stroke-width="1"/>
<line x1="464.5" y1="819.4" x2="464.5" y2="853.6" stroke="#9c9c9c" stroke-width="1"/>
<line x1="464.5" y1="891.5" x2="464.5" y2="960" stroke="#9c9c9c" stroke-width="1"/>
<line x1="551.6" y1="801" x2="551.6" y2="960" stroke="#9c9c9c" stroke-width="1"/>
<line x1="638.2" y1="772" x2="638.2" y2="960" stroke="#9c9c9c" stroke-width="1"/>
<line x1="415.5" y1="785.9" x2="638.2" y2="785.9" stroke="#999" stroke-width="1"/>
<line x1="415.5" y1="819.4" x2="551.6" y2="819.4" stroke="#9c9c9c" stroke-width="1"/>
<line x1="415.5" y1="853.6" x2="638.2" y2="853.6" stroke="#9c9c9c" stroke-width="1"/>
<line x1="415.5" y1="891.5" x2="638.2" y2="891.5" stroke="#9c9c9c" stroke-width="1"/>
<line x1="76" y1="771.4" x2="718" y2="771.4" stroke="#231815" stroke-width="1.7"/>
<line x1="76" y1="800.8" x2="718" y2="800.8" stroke="#231815" stroke-width="1.8"/>
<line x1="76" y1="960" x2="718" y2="960" stroke="#231815" stroke-width="2"/>
</svg>
<div class="abs c" style="left:76px;top:778px;width:128px;font-size:10.6px;line-height:14px;margin-top:.5px">安装可能机种名</div>
<div class="abs c" style="left:204px;top:778px;width:211px;font-size:10.6px;line-height:14px;margin-top:.5px">外形图</div>
<div class="abs c" style="left:415px;top:772px;width:223px;font-size:10.6px;line-height:14px">种类</div>
<div class="abs c" style="left:415px;top:786.5px;width:49px;font-size:10.6px;line-height:14px">颜色</div>
<div class="abs c" style="left:464px;top:786.5px;width:174px;font-size:10.6px;line-height:14px;letter-spacing:1px">产品名</div>
<div class="abs c" style="left:638px;top:773px;width:80px;font-size:10.6px;line-height:12.5px;letter-spacing:.5px">插入标签<br>外形图</div>
<div class="abs c" style="left:76px;top:875px;width:128px;font-size:10px;line-height:12px;font-weight:bold">SKHC</div>
<div class="abs" style="left:83.5px;top:942px;font-size:11.5px;line-height:14px;white-space:nowrap">适用：<span style="position:absolute;left:34.8px;top:0;letter-spacing:.28px">Joint stem type</span></div>
<div class="abs c" style="left:415px;top:805px;width:137px;font-size:8px;line-height:10px">端帽</div>
<div class="abs c" style="left:415px;top:867px;width:137px;font-size:8px;line-height:10px">键帽</div>
<div class="abs c" style="left:551px;top:867px;width:87px;font-size:8px;line-height:10px">键帽+端帽</div>
<div class="abs c b" style="left:415px;top:832px;width:49px">Clear</div>
<div class="abs c b" style="left:464px;top:832px;width:87px">SK2AA00510</div>
<div class="abs c b" style="left:415px;top:903.5px;width:49px">Red<br>Blue<br>Ivory<br>Black</div>
<div class="abs c b" style="left:464px;top:903.5px;width:87px">SK2AA00010<br>SK2AA00020<br>SK2AA00030<br>SK2AA00040</div>
<div class="abs c b" style="left:551px;top:903.5px;width:87px">SK2AA00060<br>SK2AA00070<br>SK2AA00080<br>SK2AA00090</div>
<div class="abs" style="left:646px;top:942px;font-size:10.6px;line-height:14px;white-space:nowrap;letter-spacing:-.05px">Thickness 0.1</div>


<!-- notes 2 -->
<div class="abs note-tag" style="left:76px;top:974px">注</div>
<div class="abs note" style="left:77px;top:989.5px">1. 键帽 / 端帽在不装入开关的状态下交付。</div>
<div class="abs note" style="left:77px;top:1003.5px">2. 没有准备插入标签。</div>
<div class="abs note" style="left:77px;top:1017.5px"><span style="letter-spacing:.6px">3. SK2AA00010~SK2AA00090</span>型，请确认安装方向。</div>
<svg width="794" height="1123" viewBox="0 0 794 1123" style="left:0;top:0" fill="none" stroke="#231815">
<path d="M472.1 1019 V1032.7 L489.1 1039.5 L492.5 1037.8 L494.2 1034.4 L492.5 1030.4 V1027 M489.1 1026.3 V1039.5" stroke-width="0.5" fill="none" stroke-linejoin="round"/>
<path d="M496.5 1024.2 V1033.3 L499.9 1032.7 L511.8 1026.5 V1016 M499.3 1023.4 V1032.7 M509.5 1017.4 V1027.6" stroke-width="0.5" fill="none" stroke-linejoin="round"/>
<path d="M461.3 1006.6 L489.7 990 L520.8 1002.1 L492.5 1018.5 Z M461.3 1006.6 V1014 L492.5 1027.6 L520.8 1010.6 V1002.1 M492.5 1018.5 V1027.6" stroke-width="0.5" fill="#fff" stroke-linejoin="round"/>
<path d="M519.4 1024.2 H523.1 V1029.9 H525.6 L521.2 1036.1 L516.9 1029.9 H519.4 Z" stroke-width="0.3" fill="#231815" />
<text x="533.0" y="993.0" font-size="7.2" text-anchor="start" stroke="none" >SK2AA00010~00090 (Keytop)</text>
<text x="534.0" y="1042.8" font-size="7.3" text-anchor="start" stroke="none" >键开关按钮</text>
<path d="M476.1 1059 L467.6 1064.4 V1071.2 C472 1071 474 1074 478 1075.5 C483 1077 487 1078.5 491.4 1080.3 L511.2 1071.2 V1064.4 L505 1061 M467.6 1064.4 L491.4 1075.2 L511.2 1064.4 M491.4 1075.2 V1080.3" stroke-width="0.5" fill="none" stroke-linejoin="round"/>
<path d="M476.1 1053.7 L489.1 1045.7 L505 1052.5 L491.4 1059.9 Z M476.1 1053.7 V1059.9 L478.3 1060.9 V1062.9 L494 1069.6 L501.8 1064.8 V1059.8 L505 1058.2 V1052.5 M491.4 1059.9 V1065.8 L494 1064.4 V1069.6 M478.3 1060.9 L491.4 1065.8" stroke-width="0.5" fill="#fff" stroke-linejoin="round"/>
<path d="M532.2 991.1 C520 992 508 997 497 1004.4" stroke-width="0.5" fill="none" />
<path d="M532.2 1041.2 C518 1042 505 1046 492.5 1053.1" stroke-width="0.5" fill="none" />
</svg>

<!-- footer -->
<div class="abs" style="left:340px;top:1076px;font-size:16px;line-height:22px;font-weight:bold;color:#1d4f80;-webkit-text-stroke:.3px #1d4f80;white-space:nowrap">阿尔卑斯阿尔派</div>
<div class="abs" style="left:757.5px;top:1083px;font-size:10.4px;line-height:12px;white-space:nowrap;letter-spacing:.35px">187</div>
</div>
</body>
</html>
